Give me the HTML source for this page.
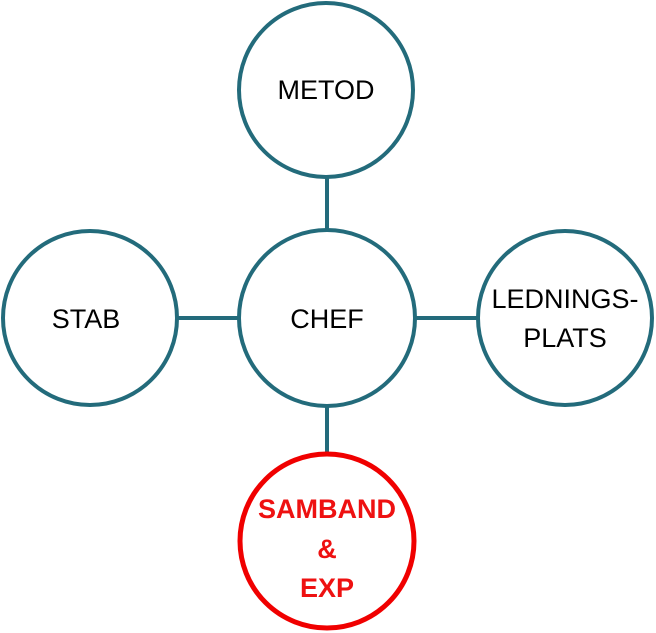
<!DOCTYPE html>
<html><head><style>html,body{margin:0;padding:0;background:#fff;}</style></head>
<body>
<svg width="656" height="633" viewBox="0 0 656 633" xmlns="http://www.w3.org/2000/svg" style="display:block">
<g stroke="#236b7b" stroke-width="4" fill="none">
<line x1="327" y1="177" x2="327" y2="230"/>
<line x1="178" y1="318" x2="239" y2="318"/>
<line x1="415" y1="318" x2="477" y2="318"/>
<line x1="327" y1="406" x2="327" y2="454"/>
<circle cx="326" cy="90" r="87" fill="#fff"/>
<circle cx="327" cy="318" r="88" fill="#fff"/>
<circle cx="90" cy="318" r="87" fill="#fff"/>
<circle cx="565" cy="318" r="87" fill="#fff"/>
</g>
<circle cx="327" cy="541" r="87" fill="#fff" stroke="#f00000" stroke-width="5"/>
<g font-family="Liberation Sans, sans-serif" font-size="27" fill="#000" text-anchor="middle">
<text x="326" y="99">METOD</text>
<text x="327" y="328">CHEF</text>
<text x="86" y="328">STAB</text>
<text x="565" y="308">LEDNINGS-</text>
<text x="565" y="347">PLATS</text>
</g>
<g font-family="Liberation Sans, sans-serif" font-size="27" font-weight="bold" fill="#ee1111" text-anchor="middle">
<text x="327" y="518">SAMBAND</text>
<text x="327" y="558">&amp;</text>
<text x="327" y="597">EXP</text>
</g>
</svg>
</body></html>
